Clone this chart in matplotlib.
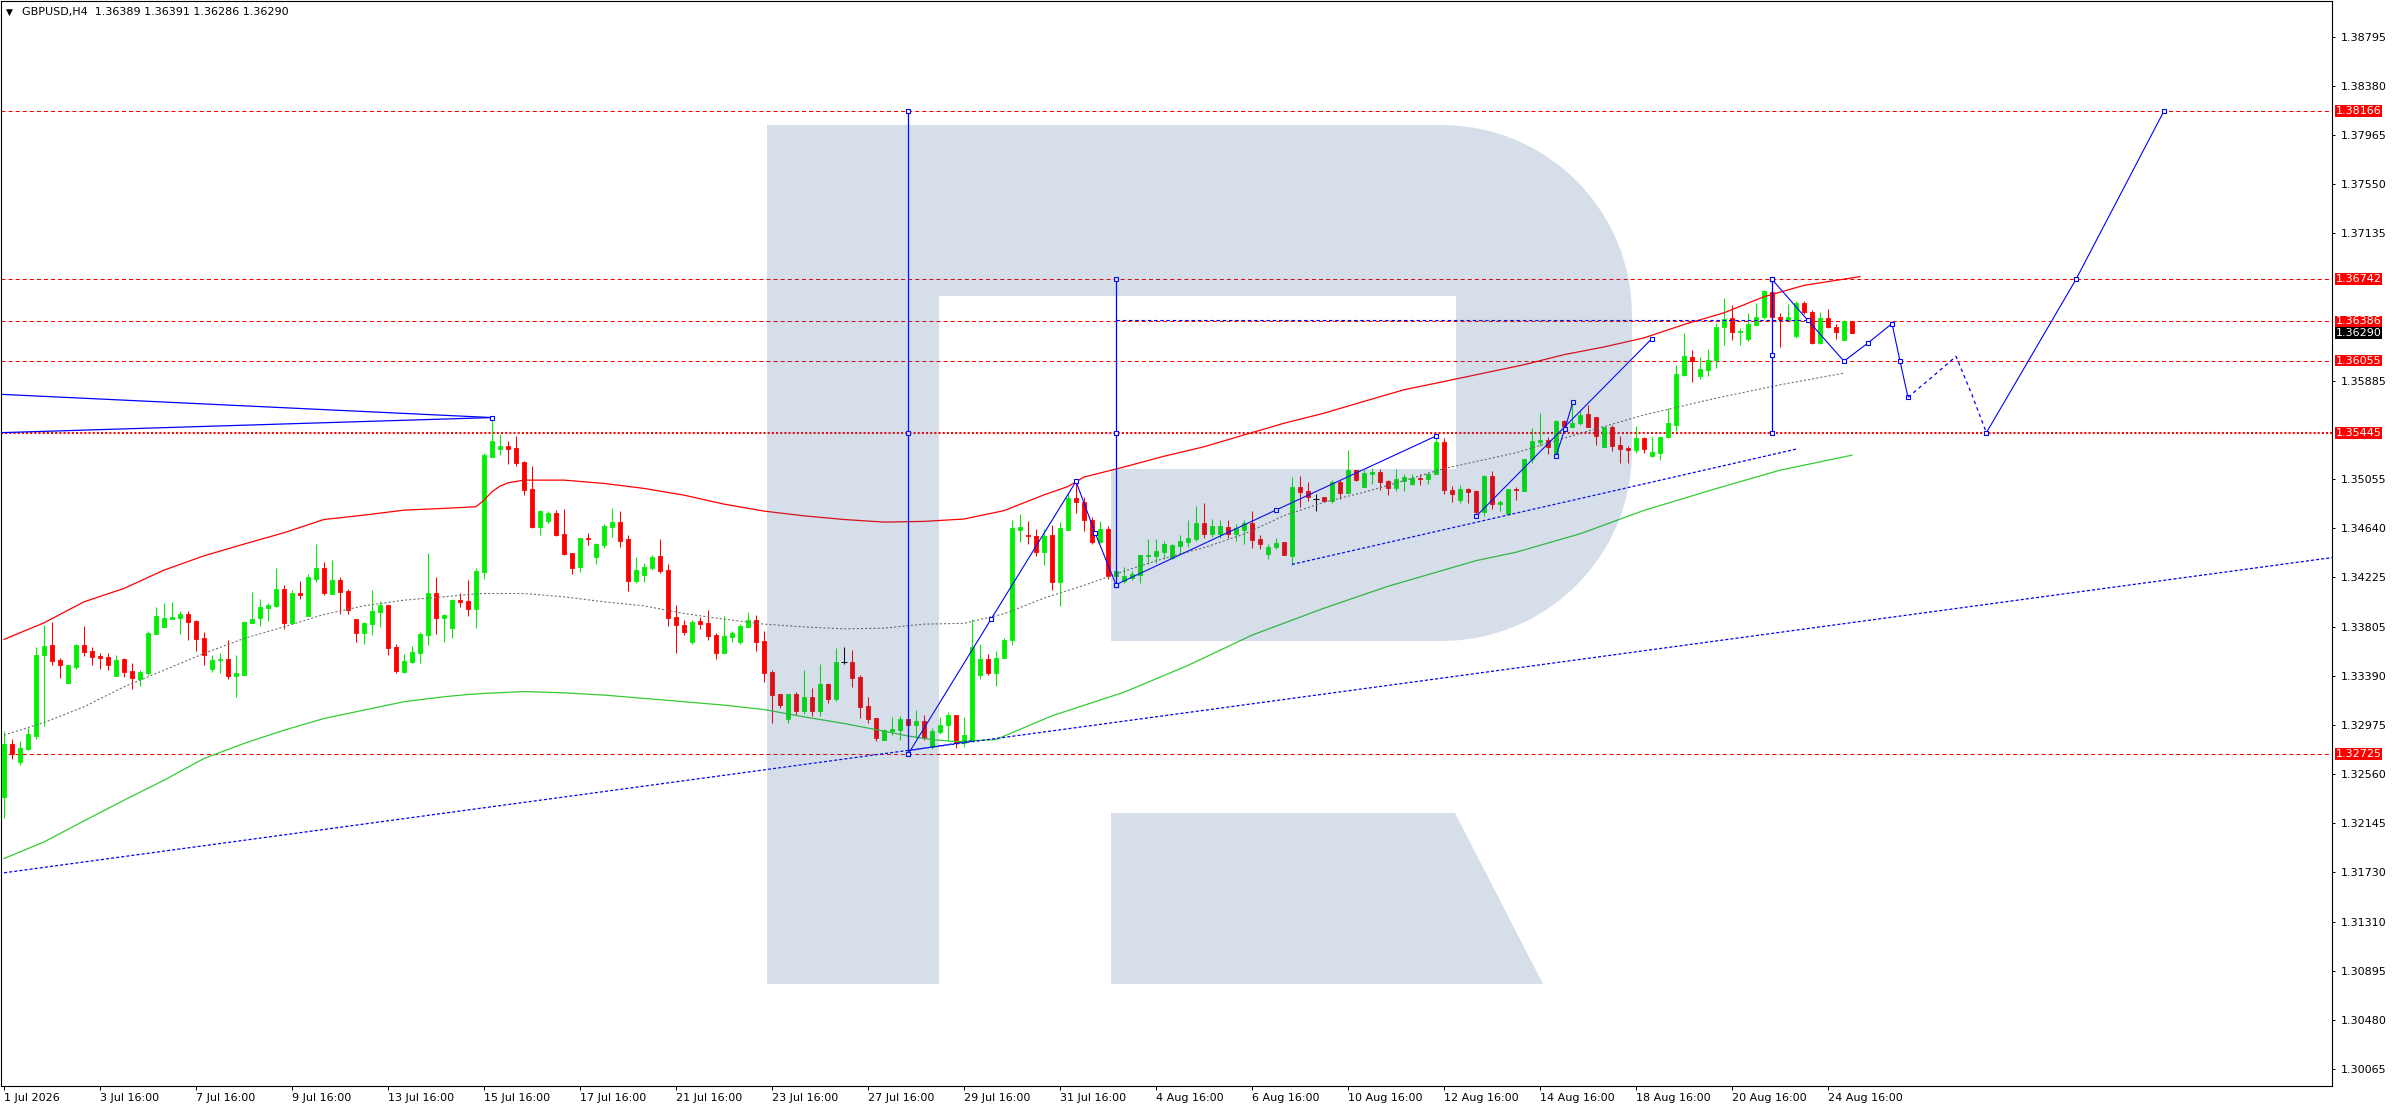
import numpy as np
import matplotlib
matplotlib.use("Agg")
import matplotlib.pyplot as plt
from matplotlib.path import Path
from matplotlib.patches import PathPatch
from matplotlib.transforms import blended_transform_factory

plt.rcParams['font.family'] = 'DejaVu Sans'
plt.rcParams['font.size'] = 8
plt.rcParams['lines.scale_dashes'] = False

W, H = 2396, 1110

# H4 bars, bar 0 = 1 Jul 16:00
opens = [
    1.32365, 1.32811, 1.32661, 1.32766, 1.32881, 1.33564, 1.33648, 1.33521, 1.33330, 1.33462,
    1.33648, 1.33598, 1.33555, 1.33547, 1.33389, 1.33533, 1.33428, 1.33364, 1.33411, 1.33744,
    1.33803, 1.33871, 1.33882, 1.33911, 1.33854, 1.33708, 1.33448, 1.33519, 1.33530, 1.33389,
    1.33397, 1.33837, 1.33879, 1.33964, 1.33981, 1.34122, 1.33837, 1.34088, 1.33896, 1.34210,
    1.34300, 1.34083, 1.34198, 1.34105, 1.33868, 1.33750, 1.33829, 1.33930, 1.33987, 1.33631,
    1.33420, 1.33505, 1.33583, 1.33736, 1.34088, 1.33880, 1.33795, 1.34029, 1.34021, 1.33950,
    1.34269, 1.35242, 1.35304, 1.35332, 1.35315, 1.35196, 1.34968, 1.34649, 1.34697, 1.34765,
    1.34587, 1.34427, 1.34311, 1.34556, 1.34396, 1.34497, 1.34649, 1.34686, 1.34545, 1.34193,
    1.34238, 1.34303, 1.34401, 1.34283, 1.33885, 1.33818, 1.33677, 1.33851, 1.33834, 1.33733,
    1.33583, 1.33719, 1.33679, 1.33803, 1.33860, 1.33682, 1.33420, 1.33234, 1.33028, 1.33239,
    1.33093, 1.33208, 1.33093, 1.33318, 1.33194, 1.33502, 1.33505, 1.33378, 1.33132, 1.33031,
    1.32850, 1.32924, 1.32929, 1.33028, 1.32972, 1.33011, 1.32789, 1.32915, 1.32972, 1.33056,
    1.32825, 1.32839, 1.33398, 1.33529, 1.33415, 1.33537, 1.33696, 1.34626, 1.34578, 1.34572,
    1.34439, 1.34581, 1.34183, 1.34626, 1.34897, 1.34862, 1.34706, 1.34524, 1.34629, 1.34231,
    1.34194, 1.34217, 1.34245, 1.34405, 1.34402, 1.34439, 1.34388, 1.34487, 1.34524, 1.34550,
    1.34680, 1.34587, 1.34587, 1.34649, 1.34587, 1.34621, 1.34680, 1.34544, 1.34422, 1.34481,
    1.34521, 1.34402, 1.34990, 1.34951, 1.34885, 1.34899, 1.34865, 1.35027, 1.34934, 1.35127,
    1.34990, 1.35098, 1.35113, 1.35036, 1.34981, 1.35037, 1.35015, 1.35066, 1.35054, 1.35094,
    1.35369, 1.34958, 1.34879, 1.34969, 1.34952, 1.34774, 1.35077, 1.34845, 1.34760, 1.34972,
    1.34952, 1.35219, 1.35366, 1.35383, 1.35261, 1.35544, 1.35496, 1.35524, 1.35604, 1.35581,
    1.35326, 1.35490, 1.35340, 1.35315, 1.35298, 1.35400, 1.35247, 1.35275, 1.35405, 1.35510,
    1.35935, 1.36085, 1.35927, 1.35978, 1.36057, 1.36340, 1.36416, 1.36298, 1.36238, 1.36360,
    1.36425, 1.36637, 1.36425, 1.36402, 1.36261, 1.36538, 1.36465, 1.36204, 1.36416, 1.36340,
    1.36232, 1.36389,
]
highs = [
    1.32921, 1.32853, 1.32836, 1.32946, 1.33631, 1.33817, 1.33846, 1.33541, 1.33479, 1.33657,
    1.33809, 1.33631, 1.33578, 1.33581, 1.33561, 1.33541, 1.33496, 1.33434, 1.33770, 1.33970,
    1.34009, 1.34012, 1.33939, 1.33936, 1.33863, 1.33758, 1.33567, 1.33586, 1.33696, 1.33569,
    1.33854, 1.34097, 1.34037, 1.34004, 1.34300, 1.34156, 1.34114, 1.34190, 1.34246, 1.34508,
    1.34350, 1.34367, 1.34224, 1.34122, 1.33868, 1.33846, 1.34114, 1.34021, 1.33987, 1.33654,
    1.33572, 1.33640, 1.33761, 1.34427, 1.34224, 1.33913, 1.34035, 1.34088, 1.34198, 1.34297,
    1.35275, 1.35566, 1.35433, 1.35371, 1.35419, 1.35205, 1.35163, 1.34790, 1.34779, 1.34790,
    1.34799, 1.34427, 1.34554, 1.34599, 1.34514, 1.34672, 1.34807, 1.34782, 1.34579, 1.34393,
    1.34339, 1.34407, 1.34545, 1.34334, 1.33987, 1.33865, 1.33863, 1.33888, 1.33945, 1.33747,
    1.33899, 1.33770, 1.33826, 1.33927, 1.33902, 1.33767, 1.33442, 1.33239, 1.33239, 1.33248,
    1.33437, 1.33290, 1.33485, 1.33327, 1.33623, 1.33631, 1.33606, 1.33400, 1.33211, 1.33031,
    1.32938, 1.33039, 1.33048, 1.33028, 1.33104, 1.33056, 1.32944, 1.33042, 1.33084, 1.33056,
    1.33042, 1.33866, 1.33662, 1.33577, 1.33600, 1.33705, 1.34706, 1.34757, 1.34695, 1.34629,
    1.34629, 1.34663, 1.34692, 1.34936, 1.35027, 1.34905, 1.34729, 1.34700, 1.34655, 1.34302,
    1.34308, 1.34274, 1.34407, 1.34544, 1.34544, 1.34530, 1.34501, 1.34581, 1.34706, 1.34828,
    1.34848, 1.34715, 1.34706, 1.34706, 1.34672, 1.34706, 1.34780, 1.34578, 1.34507, 1.34552,
    1.34521, 1.35070, 1.35076, 1.35027, 1.34928, 1.34905, 1.35042, 1.35042, 1.35298, 1.35133,
    1.35133, 1.35150, 1.35141, 1.35047, 1.35142, 1.35100, 1.35100, 1.35100, 1.35114, 1.35411,
    1.35397, 1.34992, 1.35001, 1.34981, 1.34964, 1.35085, 1.35119, 1.34879, 1.34972, 1.34986,
    1.35219, 1.35488, 1.35613, 1.35405, 1.35553, 1.35553, 1.35708, 1.35638, 1.35680, 1.35581,
    1.35496, 1.35510, 1.35417, 1.35332, 1.35502, 1.35411, 1.35405, 1.35411, 1.35652, 1.36020,
    1.36289, 1.36147, 1.36085, 1.36153, 1.36374, 1.36586, 1.36521, 1.36332, 1.36459, 1.36544,
    1.36652, 1.36680, 1.36459, 1.36530, 1.36558, 1.36558, 1.36482, 1.36465, 1.36487, 1.36368,
    1.36397, 1.36391,
]
lows = [
    1.32190, 1.32687, 1.32636, 1.32760, 1.32856, 1.32966, 1.33479, 1.33372, 1.33330, 1.33448,
    1.33558, 1.33479, 1.33448, 1.33440, 1.33389, 1.33380, 1.33279, 1.33304, 1.33400, 1.33744,
    1.33803, 1.33871, 1.33744, 1.33691, 1.33600, 1.33479, 1.33423, 1.33414, 1.33364, 1.33211,
    1.33397, 1.33837, 1.33812, 1.33854, 1.33970, 1.33786, 1.33837, 1.34040, 1.33896, 1.34184,
    1.34071, 1.34083, 1.33908, 1.33913, 1.33676, 1.33660, 1.33736, 1.33803, 1.33567, 1.33414,
    1.33414, 1.33499, 1.33496, 1.33651, 1.33744, 1.33671, 1.33710, 1.33973, 1.33896, 1.33795,
    1.34210, 1.35242, 1.35259, 1.35182, 1.35165, 1.34920, 1.34641, 1.34582, 1.34683, 1.34570,
    1.34407, 1.34252, 1.34269, 1.34497, 1.34336, 1.34472, 1.34565, 1.34475, 1.34108, 1.34178,
    1.34181, 1.34288, 1.34260, 1.33812, 1.33583, 1.33736, 1.33662, 1.33786, 1.33688, 1.33533,
    1.33583, 1.33679, 1.33660, 1.33798, 1.33595, 1.33338, 1.32986, 1.33113, 1.32994, 1.33059,
    1.33070, 1.33053, 1.33053, 1.33163, 1.33177, 1.33488, 1.33296, 1.33034, 1.32986, 1.32839,
    1.32847, 1.32890, 1.32850, 1.32732, 1.32867, 1.32850, 1.32774, 1.32901, 1.32839, 1.32780,
    1.32789, 1.32839, 1.33358, 1.33392, 1.33307, 1.33537, 1.33648, 1.34524, 1.34507, 1.34402,
    1.34328, 1.34117, 1.33981, 1.34626, 1.34763, 1.34615, 1.34507, 1.34510, 1.34208, 1.34160,
    1.34174, 1.34203, 1.34174, 1.34336, 1.34345, 1.34373, 1.34373, 1.34416, 1.34479, 1.34530,
    1.34552, 1.34564, 1.34552, 1.34558, 1.34530, 1.34501, 1.34473, 1.34464, 1.34379, 1.34459,
    1.34410, 1.34322, 1.34814, 1.34871, 1.34786, 1.34857, 1.34848, 1.34885, 1.34934, 1.35033,
    1.34985, 1.35007, 1.34962, 1.34914, 1.34952, 1.34952, 1.35001, 1.35001, 1.35015, 1.35094,
    1.34924, 1.34859, 1.34850, 1.34850, 1.34737, 1.34737, 1.34802, 1.34782, 1.34754, 1.34873,
    1.34952, 1.35190, 1.35332, 1.35261, 1.35247, 1.35454, 1.35496, 1.35510, 1.35490, 1.35340,
    1.35320, 1.35292, 1.35185, 1.35185, 1.35270, 1.35270, 1.35241, 1.35213, 1.35397, 1.35462,
    1.35927, 1.35878, 1.35898, 1.35927, 1.35992, 1.36190, 1.36227, 1.36190, 1.36218, 1.36351,
    1.36408, 1.36340, 1.36170, 1.36397, 1.36247, 1.36453, 1.36198, 1.36198, 1.36332, 1.36238,
    1.36227, 1.36286,
]
closes = [
    1.32811, 1.32726, 1.32777, 1.32895, 1.33564, 1.33640, 1.33516, 1.33479, 1.33479, 1.33648,
    1.33592, 1.33550, 1.33538, 1.33479, 1.33524, 1.33423, 1.33369, 1.33420, 1.33750, 1.33894,
    1.33877, 1.33885, 1.33911, 1.33846, 1.33702, 1.33567, 1.33521, 1.33530, 1.33389, 1.33409,
    1.33843, 1.33868, 1.33967, 1.33987, 1.34122, 1.33837, 1.34088, 1.34074, 1.34224, 1.34300,
    1.34091, 1.34198, 1.34099, 1.33942, 1.33753, 1.33834, 1.33936, 1.33987, 1.33626, 1.33431,
    1.33513, 1.33589, 1.33741, 1.34088, 1.33880, 1.33902, 1.34029, 1.34015, 1.33950, 1.34274,
    1.35256, 1.35374, 1.35332, 1.35309, 1.35191, 1.34962, 1.34647, 1.34782, 1.34765, 1.34579,
    1.34421, 1.34303, 1.34554, 1.34542, 1.34503, 1.34655, 1.34686, 1.34531, 1.34193, 1.34288,
    1.34308, 1.34396, 1.34274, 1.33882, 1.33815, 1.33761, 1.33843, 1.33829, 1.33727, 1.33583,
    1.33724, 1.33750, 1.33809, 1.33860, 1.33679, 1.33414, 1.33228, 1.33146, 1.33239, 1.33093,
    1.33208, 1.33093, 1.33324, 1.33189, 1.33505, 1.33502, 1.33372, 1.33124, 1.33028, 1.32862,
    1.32929, 1.32938, 1.33022, 1.32972, 1.33011, 1.32864, 1.32924, 1.32972, 1.33056, 1.32825,
    1.32887, 1.33634, 1.33529, 1.33415, 1.33540, 1.33691, 1.34635, 1.34649, 1.34570, 1.34439,
    1.34572, 1.34183, 1.34635, 1.34897, 1.34857, 1.34706, 1.34524, 1.34629, 1.34231, 1.34274,
    1.34231, 1.34251, 1.34407, 1.34410, 1.34444, 1.34501, 1.34493, 1.34530, 1.34558, 1.34680,
    1.34587, 1.34658, 1.34658, 1.34587, 1.34638, 1.34680, 1.34538, 1.34507, 1.34481, 1.34515,
    1.34410, 1.34990, 1.34942, 1.34899, 1.34885, 1.34865, 1.35027, 1.34934, 1.35127, 1.35042,
    1.35104, 1.35113, 1.35027, 1.34979, 1.35051, 1.35071, 1.35066, 1.35054, 1.35094, 1.35369,
    1.34964, 1.34930, 1.34969, 1.34944, 1.34774, 1.35077, 1.34845, 1.34859, 1.34972, 1.34958,
    1.35219, 1.35374, 1.35383, 1.35321, 1.35544, 1.35502, 1.35530, 1.35595, 1.35490, 1.35417,
    1.35490, 1.35332, 1.35309, 1.35298, 1.35397, 1.35304, 1.35281, 1.35405, 1.35530, 1.35944,
    1.36096, 1.36048, 1.35986, 1.36063, 1.36340, 1.36408, 1.36295, 1.36309, 1.36368, 1.36425,
    1.36643, 1.36425, 1.36408, 1.36425, 1.36544, 1.36465, 1.36204, 1.36416, 1.36340, 1.36295,
    1.36388, 1.36290,
]

# envelope-style bands (bar index, price)
upper_x = [0, 5, 10, 15, 20, 25, 30, 35, 40, 45, 50, 55, 59, 60, 61, 62, 63, 65, 70, 75, 80, 85,
           90, 95, 100, 105, 110, 115, 120, 125, 130, 133, 135, 140, 145, 150, 155, 160, 165,
           170, 175, 180, 185, 190, 195, 200, 205, 210, 215, 220, 225, 232]
upper_y = [1.33697, 1.33837, 1.34015, 1.34128, 1.34283, 1.34404, 1.34503, 1.34599, 1.34711,
           1.34748, 1.34790, 1.34805, 1.34819, 1.34875, 1.34946, 1.34993, 1.35021, 1.35044,
           1.35044, 1.35016, 1.34974, 1.34917, 1.34841, 1.34782, 1.34742, 1.34711, 1.34689,
           1.34695, 1.34715, 1.34786, 1.34919, 1.34990, 1.35070, 1.35155, 1.35246, 1.35326,
           1.35426, 1.35525, 1.35610, 1.35710, 1.35808, 1.35878, 1.35949, 1.36020, 1.36105,
           1.36170, 1.36247, 1.36360, 1.36459, 1.36595, 1.36691, 1.36765]
mid_x = [0, 5, 10, 15, 20, 25, 30, 35, 40, 45, 50, 55, 58, 60, 65, 70, 75, 80, 85, 90, 95, 100,
         105, 110, 115, 120, 125, 130, 135, 140, 145, 150, 155, 160, 165, 170, 173, 180, 189,
         197, 205, 214, 222, 230]
mid_y = [1.32887, 1.32994, 1.33127, 1.33296, 1.33437, 1.33578, 1.33705, 1.33803, 1.33908,
         1.33981, 1.34029, 1.34057, 1.34077, 1.34085, 1.34085, 1.34057, 1.34015, 1.33981,
         1.33916, 1.33868, 1.33826, 1.33803, 1.33786, 1.33792, 1.33826, 1.33833, 1.33913,
         1.34046, 1.34154, 1.34274, 1.34382, 1.34473, 1.34587, 1.34743, 1.34857, 1.34942,
         1.34999, 1.35142, 1.35275, 1.35439, 1.35595, 1.35737, 1.35850, 1.35949]
lower_x = [0, 5, 10, 15, 20, 25, 30, 35, 40, 45, 50, 55, 58, 60, 65, 70, 75, 80, 85, 90, 95, 100,
           105, 110, 113, 116, 119, 124, 131, 140, 148, 156, 165, 173, 184, 189, 197, 205, 214,
           222, 231]
lower_y = [1.31844, 1.31984, 1.32162, 1.32337, 1.32506, 1.32690, 1.32817, 1.32929, 1.33028,
           1.33099, 1.33170, 1.33212, 1.33231, 1.33240, 1.33256, 1.33245, 1.33226, 1.33198,
           1.33170, 1.33141, 1.33104, 1.33042, 1.32986, 1.32921, 1.32880, 1.32850, 1.32832,
           1.32850, 1.33051, 1.33250, 1.33477, 1.33733, 1.33961, 1.34146, 1.34363, 1.34434,
           1.34590, 1.34788, 1.34972, 1.35128, 1.35255]

# horizontal levels
levels = [1.38166, 1.36742, 1.36386, 1.36055, 1.32725]
key_level = 1.35445
last_price = 1.36290

# drawn objects (bar index, price)
tri_x = [-0.5, 61]
tri_upper = [1.35770, 1.35573]
tri_lower = [1.35445, 1.35573]

vert_lines = [
    (113, [1.32725, 1.35445, 1.38166]),
    (139, [1.34160, 1.35445, 1.36742]),
    (221, [1.35445, 1.36100, 1.36742]),
]
wave_a_x = [113, 123.4, 134, 136.4, 139]
wave_a_y = [1.32725, 1.33870, 1.35033, 1.34595, 1.34160]
wave_b_x = [139, 159, 179]
wave_b_y = [1.34160, 1.34791, 1.35417]
wave_c_x = [184, 206]
wave_c_y = [1.34737, 1.36241]
wave_d_x = [194, 195.1, 196.1]
wave_d_y = [1.35247, 1.35476, 1.35703]

fc_solid1_x = [221, 225.5, 230, 233, 236, 237, 238]
fc_solid1_y = [1.36742, 1.36394, 1.36050, 1.36204, 1.36368, 1.36051, 1.35745]
fc_dash_x = [238, 241, 244, 246, 247.8]
fc_dash_y = [1.35745, 1.35915, 1.36091, 1.35765, 1.35445]
fc_solid2_x = [247.8, 259, 270]
fc_solid2_y = [1.35445, 1.36742, 1.38166]

blue_hline_x = [139, 225.5]
blue_hline_y = 1.36395

trend_long_x = [-1, 292]
trend_long_y = [1.31714, 1.34398]
trend_short_x = [113, 121]
trend_short_y = [1.32756, 1.32839]
trend_chan_x = [161, 224]
trend_chan_y = [1.34331, 1.35306]

ytick_vals = [1.38795, 1.38380, 1.37965, 1.37550, 1.37135, 1.35885, 1.35055, 1.34640, 1.34225,
              1.33805, 1.33390, 1.32975, 1.32560, 1.32145, 1.31730, 1.31310, 1.30895, 1.30480,
              1.30065]
xtick_bars = [0, 12, 24, 36, 48, 60, 72, 84, 96, 108, 120, 132, 144, 156, 168, 180, 192, 204,
              216, 228]
xtick_labels = ['1 Jul 2026', '3 Jul 16:00', '7 Jul 16:00', '9 Jul 16:00', '13 Jul 16:00',
                '15 Jul 16:00', '17 Jul 16:00', '21 Jul 16:00', '23 Jul 16:00', '27 Jul 16:00',
                '29 Jul 16:00', '31 Jul 16:00', '4 Aug 16:00', '6 Aug 16:00', '10 Aug 16:00',
                '12 Aug 16:00', '14 Aug 16:00', '18 Aug 16:00', '20 Aug 16:00', '24 Aug 16:00']

BULL = '#00ee00'
BEAR = '#ff0000'
BLUE = '#0000ff'

fig = plt.figure(figsize=(W / 100, H / 100), dpi=100)
ax = fig.add_axes([1 / W, (H - 1086) / H, (2332 - 1) / W, (1086 - 1) / H])
ax.set_xlim(-0.375, 291.0)
ax.set_ylim(1.29920, 1.39096)

# levels
for v in levels:
    ax.axhline(v, color='#ff0000', lw=0.75, ls=(0, (2.9, 2.2)), zorder=2)
ax.axhline(key_level, color='#ff0000', lw=1.5, ls=(0, (1.5, 1.5)), zorder=2)

# candles
o, hi, lo, c = map(np.array, (opens, highs, lows, closes))
x = np.arange(len(o))
col = np.where(c > o, BULL, np.where(c < o, BEAR, 'black'))
flat = c == o
ax.vlines(x, lo, hi, colors=col, lw=0.75, zorder=3)
ax.bar(x[~flat], np.abs(c - o)[~flat], bottom=np.minimum(o, c)[~flat], width=0.55,
       color=col[~flat], edgecolor=col[~flat], lw=0.6, zorder=3)
ax.hlines(o[flat], x[flat] - 0.35, x[flat] + 0.35, colors='black', lw=0.75, zorder=3)

# bands
ax.plot(upper_x, upper_y, color='#ff0000', lw=0.9, zorder=4)
ax.plot(mid_x, mid_y, color='#707070', lw=0.8, ls=(0, (1.5, 1.5)), zorder=4)
ax.plot(lower_x, lower_y, color='#33cc33', lw=0.9, zorder=4)

# blue drawings
sq = dict(marker='s', ms=3.3, mfc='white', mec=BLUE, mew=0.8)
ax.plot(tri_x, tri_upper, color=BLUE, lw=0.9, zorder=5)
ax.plot(tri_x, tri_lower, color=BLUE, lw=0.9, zorder=5)
ax.plot([61], [1.35573], color=BLUE, zorder=6, **sq)
for bx, pts in vert_lines:
    ax.plot([bx, bx], [pts[0], pts[-1]], color=BLUE, lw=0.9, zorder=5)
    ax.plot([bx] * len(pts), pts, ls='none', zorder=6, **sq)
for wx, wy in [(wave_a_x, wave_a_y), (wave_b_x, wave_b_y), (wave_c_x, wave_c_y),
               (wave_d_x, wave_d_y), (fc_solid1_x, fc_solid1_y), (fc_solid2_x, fc_solid2_y)]:
    ax.plot(wx, wy, color=BLUE, lw=0.8, zorder=6, **sq)
ax.plot(fc_dash_x, fc_dash_y, color=BLUE, lw=0.9, ls=(0, (2.5, 2.5)), zorder=6)
ax.plot(blue_hline_x, [blue_hline_y] * 2, color=BLUE, lw=0.8, ls=(0, (2.5, 2)), zorder=5)
for tx, ty in [(trend_long_x, trend_long_y), (trend_short_x, trend_short_y),
               (trend_chan_x, trend_chan_y)]:
    ax.plot(tx, ty, color=BLUE, lw=0.9, ls=(0, (2.2, 1.5)), zorder=5)

# watermark "R" (figure pixel geometry)
def fp(px, py):
    return (px / W, 1 - py / H)

r = 190
t = np.linspace(np.pi / 2, 0, 20)
arc1 = [fp(1442 + r * np.cos(a), 315 - r * np.sin(a)) for a in t]
t2 = np.linspace(0, np.pi / 2, 20)
arc2 = [fp(1442 + r * np.cos(a), 451 + r * np.sin(a)) for a in t2]
body = [fp(767, 125)] + arc1 + arc2 + [fp(1111, 641), fp(1111, 469), fp(1456, 469),
                                       fp(1456, 296), fp(939, 296), fp(939, 984),
                                       fp(767, 984), fp(767, 125)]
leg = [fp(1111, 813), fp(1455, 813), fp(1543, 984), fp(1111, 984), fp(1111, 813)]
for poly in (body, leg):
    codes = [Path.MOVETO] + [Path.LINETO] * (len(poly) - 2) + [Path.CLOSEPOLY]
    ax.add_patch(PathPatch(Path(poly, codes), transform=fig.transFigure,
                           fc='#2d5a91', ec='none', alpha=0.2, zorder=10))

# axes styling
for s in ax.spines.values():
    s.set_linewidth(0.8)
ax.yaxis.tick_right()
ax.set_yticks(ytick_vals)
ax.set_yticklabels([f'{v:.5f}' for v in ytick_vals])
ax.tick_params(axis='y', direction='out', length=2.5, width=0.7, pad=3.5, labelsize=8)
ax.set_xticks(xtick_bars)
ax.set_xticklabels(xtick_labels, ha='left')
ax.tick_params(axis='x', direction='out', length=3, width=0.7, pad=2, labelsize=8)

trans = blended_transform_factory(ax.transAxes, ax.transData)
for v in levels + [key_level]:
    ax.text(1.0015, v, f'{v:.5f}', transform=trans, ha='left', va='center', color='white',
            fontsize=8, clip_on=False, zorder=20,
            bbox=dict(boxstyle='square,pad=0.08', fc='#ff0000', ec='none'))
ax.text(1.0015, last_price, f'{last_price:.5f}', transform=trans, ha='left', va='center',
        color='white', fontsize=8, clip_on=False, zorder=20,
        bbox=dict(boxstyle='square,pad=0.08', fc='black', ec='none'))

fig.text(6 / W, 1 - 12 / H, '\u25bc', fontsize=6.5, va='center', ha='left')
fig.text(22 / W, 1 - 12 / H, 'GBPUSD,H4  1.36389 1.36391 1.36286 1.36290', fontsize=8,
         va='center', ha='left')

fig.savefig('out.png', dpi=100)
